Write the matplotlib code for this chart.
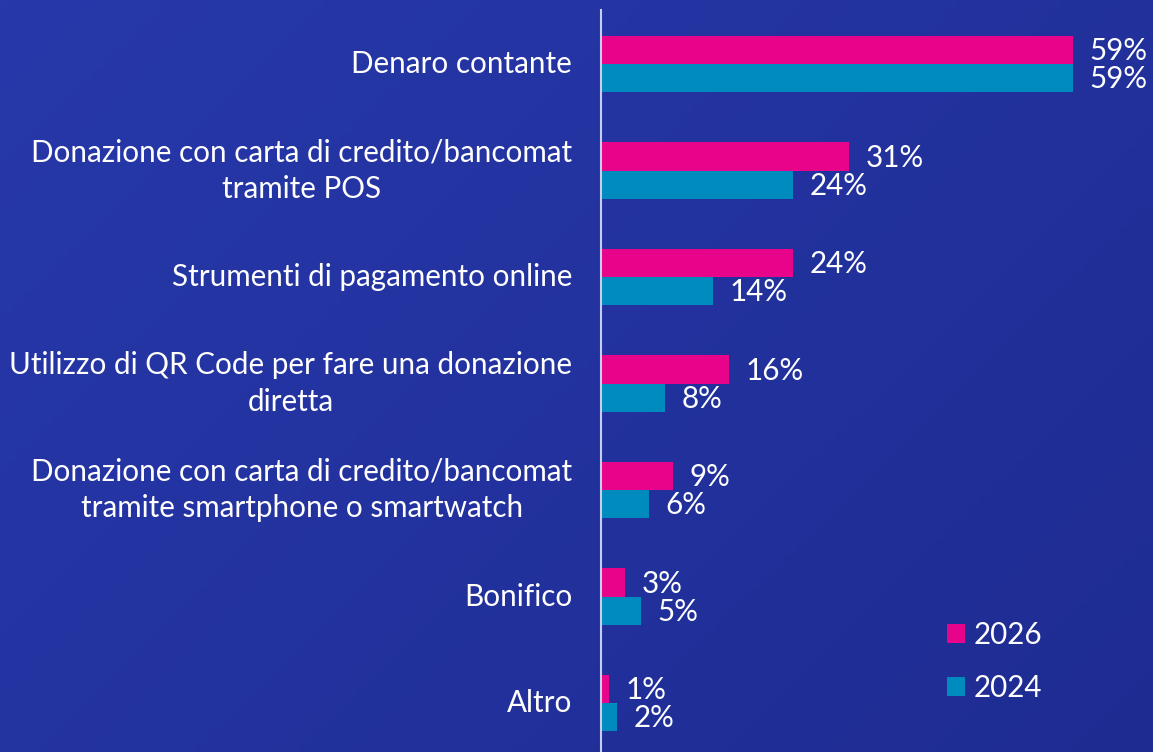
import numpy as np
import matplotlib
matplotlib.use("Agg")
import matplotlib.pyplot as plt
from matplotlib.colors import LinearSegmentedColormap

categorie = [
    "Denaro contante",
    "Donazione con carta di credito/bancomat\ntramite POS",
    "Strumenti di pagamento online",
    "Utilizzo di QR Code per fare una donazione\ndiretta",
    "Donazione con carta di credito/bancomat\ntramite smartphone o smartwatch",
    "Bonifico",
    "Altro",
]
valori_2026 = [59, 31, 24, 16, 9, 3, 1]
valori_2024 = [59, 24, 14, 8, 6, 5, 2]
anni = ["2026", "2024"]

ROSA = "#E8048A"
AZZURRO = "#008BBE"
FS = 21.3

plt.rcParams["font.family"] = ["Lato", "DejaVu Sans"]

fig = plt.figure(figsize=(11.53, 7.52), dpi=100)

# sfondo sfumato
bg = fig.add_axes([0, 0, 1, 1], zorder=0)
cmap = LinearSegmentedColormap.from_list("bg", ["#2738AA", "#1E2C92"])
xx, yy = np.meshgrid(np.linspace(0, 1, 200), np.linspace(0, 1, 200))
bg.imshow(0.6 * xx + 0.4 * yy, cmap=cmap, aspect="auto", extent=[0, 1, 0, 1], origin="upper")
bg.axis("off")

W, H = 1153, 752
x0 = 601
scala = 8.0  # px per punto percentuale
passo = 106.5
y_top = 10
ax = fig.add_axes([x0 / W, 0, 1 - x0 / W, 1 - y_top / H], zorder=1)
ax.patch.set_alpha(0)
ax.set_xlim(0, (W - x0) / scala)
ax.set_ylim(6 + (H - 703) / passo, -(64 - y_top) / passo)

y = np.arange(len(categorie))
h = 0.263
b1 = ax.barh(y - h / 2, valori_2026, height=h, color=ROSA, label=anni[0])
b2 = ax.barh(y + h / 2, valori_2024, height=h, color=AZZURRO, label=anni[1])

for rect, v in zip(b1, valori_2026):
    ax.text(rect.get_width() + 2.1, rect.get_y() + rect.get_height() / 2 + 0.01, f"{v}%",
            va="center", ha="left", color="white", fontsize=FS, clip_on=False)
for rect, v in zip(b2, valori_2024):
    ax.text(rect.get_width() + 2.1, rect.get_y() + rect.get_height() / 2 + 0.01, f"{v}%",
            va="center", ha="left", color="white", fontsize=FS, clip_on=False)

for yi, lab in zip(y, categorie):
    ax.text(-3.6, yi, lab, ha="right", va="center", color="white", fontsize=FS,
            linespacing=1.35, multialignment="center", clip_on=False)

for s in ["top", "right", "bottom"]:
    ax.spines[s].set_visible(False)
ax.spines["left"].set_color("#C9CDEB")
ax.spines["left"].set_linewidth(1.5)
ax.set_xticks([])
ax.set_yticks([])

leg = ax.legend(loc="upper left", bbox_to_anchor=((947 - x0) / (W - x0), 1 - (621 - y_top) / (H - y_top)),
                frameon=False, fontsize=FS, labelcolor="white", handlelength=0.6,
                handleheight=0.6, handletextpad=0.3, labelspacing=0.85, borderpad=0,
                borderaxespad=0)

fig.savefig("out.png", dpi=100)
